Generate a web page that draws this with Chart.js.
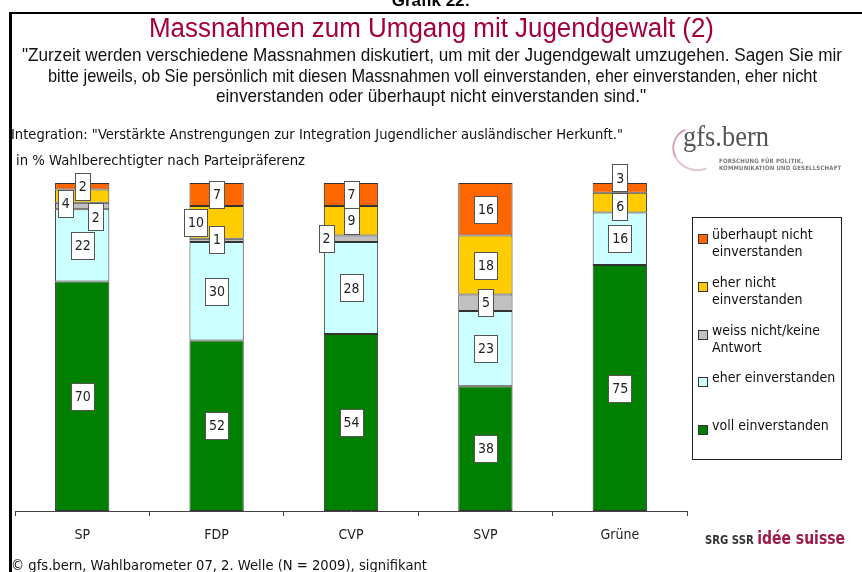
<!DOCTYPE html>
<html>
<head>
<meta charset="utf-8">
<script src="https://cdn.jsdelivr.net/npm/chart.js@4.4.1/dist/chart.umd.min.js"></script>
<style>
  html, body { margin:0; padding:0; background:#fff; }
  body { width:862px; height:572px; position:relative; overflow:hidden; font-family:"DejaVu Sans Condensed","DejaVu Sans",sans-serif; }
  #c { position:absolute; left:0; top:0; }
  .abs { position:absolute; white-space:nowrap; }
  #frame { position:absolute; left:9px; top:12px; right:-10px; bottom:-10px; border-left:3px solid #000; border-top:2px solid #000; }
  #grafik { left:0; width:862px; top:-9px; text-align:center; font:bold 17px "Liberation Sans",Arial,sans-serif; color:#000; }
  .narrow { font-family:"Liberation Sans",Arial,sans-serif; color:#111; }
  #legend { position:absolute; left:692px; top:217px; width:148px; height:241px; border:1px solid #222; background:#fff; }
  .li { position:absolute; left:0; width:148px; }
  .li .sq { position:absolute; left:5px; top:4px; width:8px; height:8px; border:1px solid #333; }
  .li .tx { position:absolute; left:19px; top:-4px; width:132px; font-size:14px; line-height:17px; color:#111; white-space:normal; }
</style>
</head>
<body>
<canvas id="c" width="862" height="572"></canvas>
<div id="frame"></div>
<div class="abs" id="grafik">Grafik 22:</div>
<div class="abs narrow" data-fit="565" data-cx="431" style="top:13px;font-size:27px;color:#a3003d;" >Massnahmen zum Umgang mit Jugendgewalt (2)</div>
<div class="abs narrow" data-fit="820" data-cx="432" style="top:44px;font-size:19px;">"Zurzeit werden verschiedene Massnahmen diskutiert, um mit der Jugendgewalt umzugehen. Sagen Sie mir</div>
<div class="abs narrow" data-fit="769" data-cx="432" style="top:64.5px;font-size:19px;">bitte jeweils, ob Sie persönlich mit diesen Massnahmen voll einverstanden, eher einverstanden, eher nicht</div>
<div class="abs narrow" data-fit="430" data-cx="431" style="top:85px;font-size:19px;">einverstanden oder überhaupt nicht einverstanden sind."</div>
<div class="abs" data-fit="612" data-left="11" style="top:126px;font-size:14px;color:#111;">Integration: "Verstärkte Anstrengungen zur Integration Jugendlicher ausländischer Herkunft."</div>
<div class="abs" data-fit="289" data-left="16" style="top:152px;font-size:14px;color:#111;">in % Wahlberechtigter nach Parteipräferenz</div>

<!-- gfs.bern logo -->
<div class="abs" style="left:672px;top:127px;width:44px;height:40px;border-radius:50%;border-left:2px solid #d8a0b4;border-bottom:2px solid #e8c4d0;border-top:2px solid transparent;border-right:2px solid transparent;transform:rotate(20deg);"></div>
<div class="abs" data-fit="86" data-left="683" style="top:119px;font:30px 'Liberation Serif','DejaVu Serif',serif;color:#555;">gfs.bern</div>
<div class="abs" style="left:719px;top:157px;font:bold 6px 'DejaVu Sans Condensed',sans-serif;color:#777;line-height:7px;letter-spacing:0.2px;">FORSCHUNG FÜR POLITIK,<br>KOMMUNIKATION UND GESELLSCHAFT</div>

<div id="legend"></div>

<!-- SRG SSR idée suisse -->
<div class="abs" data-fit="140" data-left="705" style="top:527px;font:bold 13px 'DejaVu Sans',sans-serif;color:#333;">SRG SSR <span style="font-size:18px;color:#9e1a45;">idée suisse</span></div>

<div class="abs" data-fit="416" data-left="11" style="top:557px;font-size:14px;color:#111;">© gfs.bern, Wahlbarometer 07, 2. Welle (N = 2009), signifikant</div>

<script>
// ---------- data ----------
const categories = ['SP', 'FDP', 'CVP', 'SVP', 'Grüne'];
const seriesNames = ['voll einverstanden', 'eher einverstanden', 'weiss nicht/keine Antwort', 'eher nicht einverstanden', 'überhaupt nicht einverstanden'];
const vollEinverstanden = [70, 52, 54, 38, 75];
const eherEinverstanden = [22, 30, 28, 23, 16];
const weissNicht = [2, 1, 2, 5, 0];
const eherNichtEinverstanden = [4, 10, 9, 18, 6];
const ueberhauptNicht = [2, 7, 7, 16, 3];

// ---------- styles ----------
const seriesColors = ['#008000', '#ccffff', '#c0c0c0', '#ffcc00', '#ff6600'];
// label box nudges (px) per dataset / category, to avoid overlaps as in the original
const labelNudge = {
  2: { 0: [13, 11], 1: [0, -1], 2: [-25, 0] },
  3: { 0: [-17, 7], 1: [-21, 0], 4: [0, 4] },
  4: { 4: [0, -10] }
};

const seriesValues = [vollEinverstanden, eherEinverstanden, weissNicht, eherNichtEinverstanden, ueberhauptNicht];

const labelPlugin = {
  id: 'segLabels',
  afterDatasetsDraw(chart) {
    const ctx = chart.ctx;
    ctx.save();
    ctx.font = '14px "DejaVu Sans Condensed","DejaVu Sans",sans-serif';
    ctx.textAlign = 'center';
    ctx.textBaseline = 'middle';
    chart.data.datasets.forEach((ds, i) => {
      const meta = chart.getDatasetMeta(i);
      meta.data.forEach((bar, j) => {
        const v = ds.data[j];
        if (!v) return;
        const off = (labelNudge[i] && labelNudge[i][j]) || [0, 0];
        const cx = bar.x + off[0];
        const cy = (bar.y + bar.base) / 2 + off[1];
        const txt = String(v);
        const w = Math.round(ctx.measureText(txt).width + 7);
        const h = 27;
        const x0 = Math.round(cx - w / 2), y0 = Math.round(cy - h / 2);
        ctx.fillStyle = '#fff';
        ctx.fillRect(x0, y0, w, h);
        ctx.strokeStyle = '#555';
        ctx.lineWidth = 1;
        ctx.strokeRect(x0 + 0.5, y0 + 0.5, w, h);
        ctx.fillStyle = '#222';
        ctx.fillText(txt, cx + 0.5, cy + 1);
      });
    });
    ctx.restore();
  }
};

const chart = new Chart(document.getElementById('c'), {
  type: 'bar',
  data: {
    labels: categories,
    datasets: seriesNames.map((n, i) => ({
      label: n,
      data: seriesValues[i],
      backgroundColor: seriesColors[i],
      borderColor: '#333',
      borderWidth: 1,
      borderSkipped: false,
      barPercentage: 0.404,
      categoryPercentage: 1
    }))
  },
  options: {
    responsive: false,
    animation: false,
    devicePixelRatio: 1,
    layout: { padding: { left: 15, right: 175, top: 183, bottom: 0 } },
    plugins: { legend: { display: false }, title: { display: false }, tooltip: { enabled: false } },
    scales: {
      x: {
        stacked: true,
        grid: { drawOnChartArea: false, drawTicks: true, tickLength: 5, color: '#444' },
        border: { color: '#444', width: 1 },
        ticks: { color: '#222', font: { family: '"DejaVu Sans Condensed","DejaVu Sans",sans-serif', size: 14 }, padding: 11 },
        afterFit: (s) => { s.height = 61; }
      },
      y: { stacked: true, display: false, min: 0, max: 100 }
    }
  },
  plugins: [labelPlugin]
});

// HTML legend built from datasets (top = last series)
const lg = document.getElementById('legend');
const order = [4, 3, 2, 1, 0];
order.forEach((di, k) => {
  const ds = chart.data.datasets[di];
  const it = document.createElement('div');
  it.className = 'li';
  it.style.top = (12 + k * 47.8) + 'px';
  const sq = document.createElement('div');
  sq.className = 'sq';
  sq.style.background = ds.backgroundColor;
  const tx = document.createElement('div');
  tx.className = 'tx';
  tx.textContent = ds.label;
  it.appendChild(sq); it.appendChild(tx);
  lg.appendChild(it);
});

// fit text lines to widths of the original
document.querySelectorAll('[data-fit]').forEach(el => {
  const target = parseFloat(el.dataset.fit);
  const w = el.getBoundingClientRect().width;
  const s = target / w;
  el.style.transformOrigin = 'left top';
  el.style.transform = 'scaleX(' + s + ')';
  if (el.dataset.cx) el.style.left = (parseFloat(el.dataset.cx) - target / 2) + 'px';
  else el.style.left = el.dataset.left + 'px';
});
</script>
</body>
</html>
